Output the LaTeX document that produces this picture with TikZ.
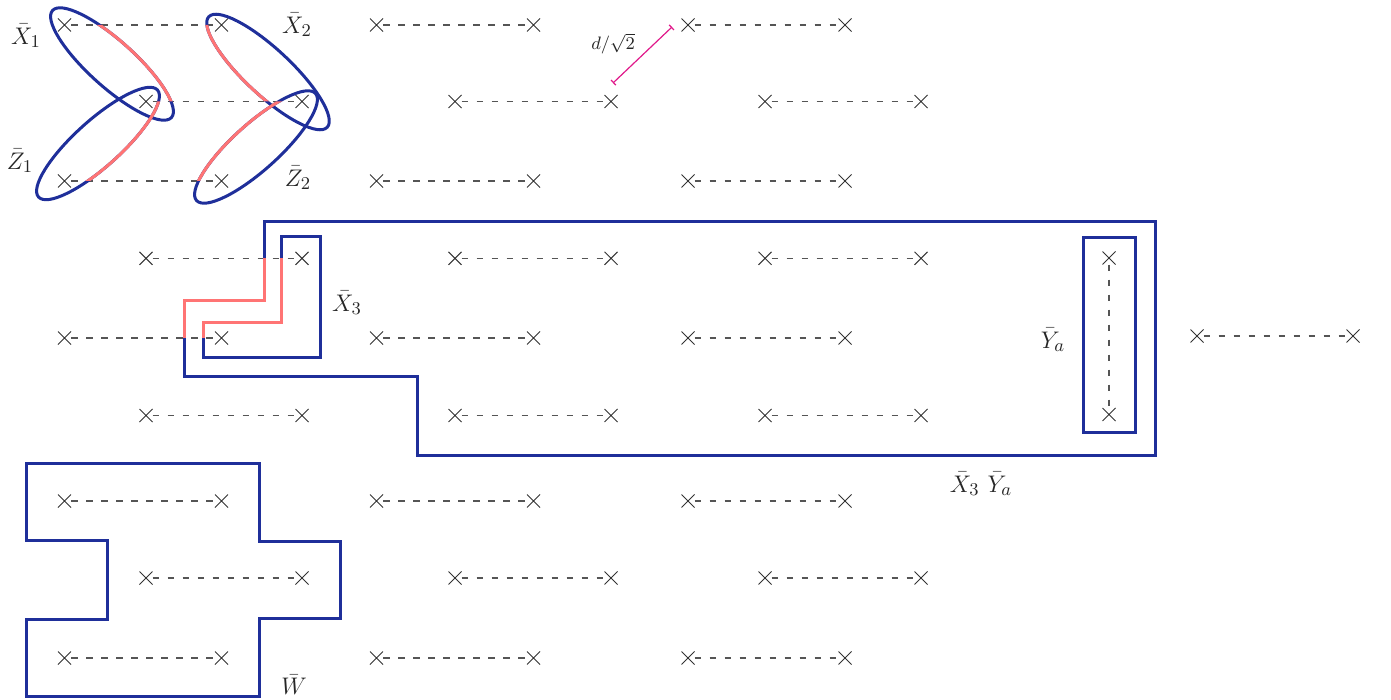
\documentclass[tikz,border=0pt]{standalone}
\usetikzlibrary{shapes.misc,arrows.meta}
\definecolor{cblue}{HTML}{1F2F9A}
\definecolor{cred}{HTML}{FF7474}
\definecolor{cmag}{HTML}{E0198A}
\definecolor{cgray}{HTML}{555555}
\definecolor{ccross}{HTML}{333333}
\tikzset{
 site/.style={cross out, draw=ccross, line width=0.5pt, minimum size=6.5pt, inner sep=0pt, outer sep=0pt},
 bond/.style={cgray, line width=0.6pt, dash pattern=on 3.4pt off 4.1pt},
 bluel/.style={cblue, line width=1.5pt, line join=miter},
 redl/.style={cred, line width=1.5pt, line join=miter},
 lab/.style={font=\fontsize{12.4}{14}\selectfont, inner sep=0pt, text=black!85},
 smalllab/.style={font=\fontsize{9.5}{11}\selectfont, inner sep=0pt, text=black!85},
}
\begin{document}
\begin{tikzpicture}[x=0.5pt,y=-0.5pt]
\useasboundingbox (0,0) rectangle (1391,700);
% lattice
\foreach \r/\yy in {0/25,2/181,4/338,6/501,8/658}
 \foreach \g/\xx in {0/64.5,1/376.5,2/688}{
  \node[site] (s\r\g a) at (\xx,\yy) {};
  \node[site] (s\r\g b) at (\xx+157,\yy) {};
  \draw[bond] (s\r\g a) -- (s\r\g b);
 }
\foreach \r/\yy in {1/101.5,3/258.3,5/415.5,7/578}
 \foreach \g/\xx in {0/146,1/455,2/765}{
  \node[site] (s\r\g a) at (\xx,\yy) {};
  \node[site] (s\r\g b) at (\xx+156,\yy) {};
  \draw[bond] (s\r\g a) -- (s\r\g b);
 }
\node[site] (s43a) at (1197,336) {};
\node[site] (s43b) at (1353,336) {};
\draw[bond] (s43a) -- (s43b);
\node[site] (ya1) at (1109,258) {};
\node[site] (ya2) at (1109,414.5) {};
\draw[bond] (ya1) -- (ya2);
% ellipses
\draw[bluel, rotate around={-42:(112,64)}] (112,64) ellipse [x radius=80, y radius=23];
\draw[bluel, rotate around={42:(98,143.5)}] (98,143.5) ellipse [x radius=80, y radius=23];
\draw[bluel, rotate around={-43:(268,72)}] (268,72) ellipse [x radius=81, y radius=23];
\draw[bluel, rotate around={42:(256,147)}] (256,147) ellipse [x radius=80, y radius=23];
\begin{scope}
 \clip (64.5,25) -- (400,25) -- (400,101.5) -- (146,101.5) -- cycle;
 \draw[redl, rotate around={-42:(112,64)}] (112,64) ellipse [x radius=80, y radius=23];
\end{scope}
\begin{scope}
 \clip (146,101.5) -- (400,101.5) -- (400,181) -- (64.5,181) -- cycle;
 \draw[redl, rotate around={42:(98,143.5)}] (98,143.5) ellipse [x radius=80, y radius=23];
\end{scope}
\begin{scope}
 \clip (221.5,25) -- (0,25) -- (0,101.5) -- (302,101.5) -- cycle;
 \draw[redl, rotate around={-43:(268,72)}] (268,72) ellipse [x radius=81, y radius=23];
\end{scope}
\begin{scope}
 \clip (302,101.5) -- (0,101.5) -- (0,181) -- (221.5,181) -- cycle;
 \draw[redl, rotate around={42:(256,147)}] (256,147) ellipse [x radius=80, y radius=23];
\end{scope}
% polygons
\draw[bluel] (264,222) -- (1155,222) -- (1155,455) -- (417,455) -- (417,376) -- (184,376) -- (184,300) -- (264,300) -- cycle;
\draw[redl] (184,338) -- (184,300) -- (264,300) -- (264,258.3);
\draw[bluel] (281,237) -- (320,237) -- (320,357) -- (203,357) -- (203,322) -- (281,322) -- cycle;
\draw[redl] (203,338) -- (203,322) -- (281,322) -- (281,258.3);
\draw[bluel] (1083,237.5) rectangle (1135,432.5);
\draw[bluel] (26,463) -- (259,463) -- (259,541) -- (340,541) -- (340,618) -- (259,618) -- (259,696) -- (26,696) -- (26,619) -- (107,619) -- (107,540) -- (26,540) -- cycle;
% distance marker
\coordinate (m1) at (613,83);
\coordinate (m2) at (672,27);
\draw[cmag, line width=0.6pt, {Bar[width=3.5pt]}-{Bar[width=3.5pt]}] (m1) -- (m2);
\node[smalllab] (dl) at (613,44) {$d/\sqrt{2}$};
% labels
\node[lab] (lx1) at (26,36) {$\bar X_1$};
\node[lab] (lz1) at (20,161) {$\bar Z_1$};
\node[lab] (lx2) at (297,25) {$\bar X_2$};
\node[lab] (lz2) at (298,178) {$\bar Z_2$};
\node[lab] (lx3) at (347,303) {$\bar X_3$};
\node[lab] (lya) at (1053,340) {$\bar Y_a$};
\node[lab] (lxy) at (981,484) {$\bar X_3\ \bar Y_a$};
\node[lab] (lw) at (294,685) {$\bar W$};
\end{tikzpicture}
\end{document}
